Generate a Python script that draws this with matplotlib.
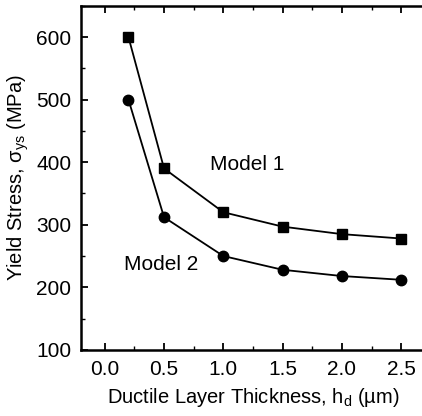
import matplotlib
matplotlib.use("Agg")
import matplotlib.pyplot as plt
from matplotlib.ticker import MultipleLocator

plt.rcParams['font.family'] = ['Liberation Sans', 'DejaVu Sans']
plt.rcParams['mathtext.fontset'] = 'custom'
plt.rcParams['mathtext.rm'] = 'Liberation Sans'
plt.rcParams['mathtext.it'] = 'Liberation Sans:italic'
plt.rcParams['mathtext.sf'] = 'Liberation Sans'

thickness = [0.2, 0.5, 1.0, 1.5, 2.0, 2.5]
model1 = [600, 390, 320, 297, 285, 278]
model2 = [500, 312, 250, 228, 218, 212]
xticks = [0.0, 0.5, 1.0, 1.5, 2.0, 2.5]
yticks = [100, 200, 300, 400, 500, 600]

fig = plt.figure(figsize=(4.22, 4.16), dpi=100)
ax = fig.add_axes([0.192, 0.159, 0.815, 0.827])

ax.plot(thickness, model1, color='black', lw=1.3, marker='s', ms=7)
ax.plot(thickness, model2, color='black', lw=1.3, marker='o', ms=7.5)

ax.set_xlim(-0.2, 2.7)
ax.set_ylim(100, 650)
ax.set_xticks(xticks)
ax.set_xticklabels([f"{v:.1f}" for v in xticks])
ax.set_yticks(yticks)
ax.xaxis.set_minor_locator(MultipleLocator(0.25))
ax.yaxis.set_minor_locator(MultipleLocator(50))

ax.tick_params(which='major', direction='in', length=5, width=1.3, labelsize=15, pad=7,
               top=True, right=False)
ax.tick_params(which='minor', direction='in', length=3, width=1.0, top=True, right=False)
for side in ['left', 'bottom', 'top']:
    ax.spines[side].set_linewidth(1.8)
ax.spines['right'].set_visible(False)

ax.set_xlabel("Ductile Layer Thickness, h$_{\\rm d}$ (\u00b5m)", fontsize=14.5, labelpad=5)
ax.set_ylabel("Yield Stress, \u03c3$_{\\rm ys}$ (MPa)", fontsize=14.5, labelpad=4)

ax.text(1.2, 396, "Model 1", fontsize=15, ha='center', va='center')
ax.text(0.475, 237, "Model 2", fontsize=15, ha='center', va='center')

fig.savefig("out.png", dpi=100)
